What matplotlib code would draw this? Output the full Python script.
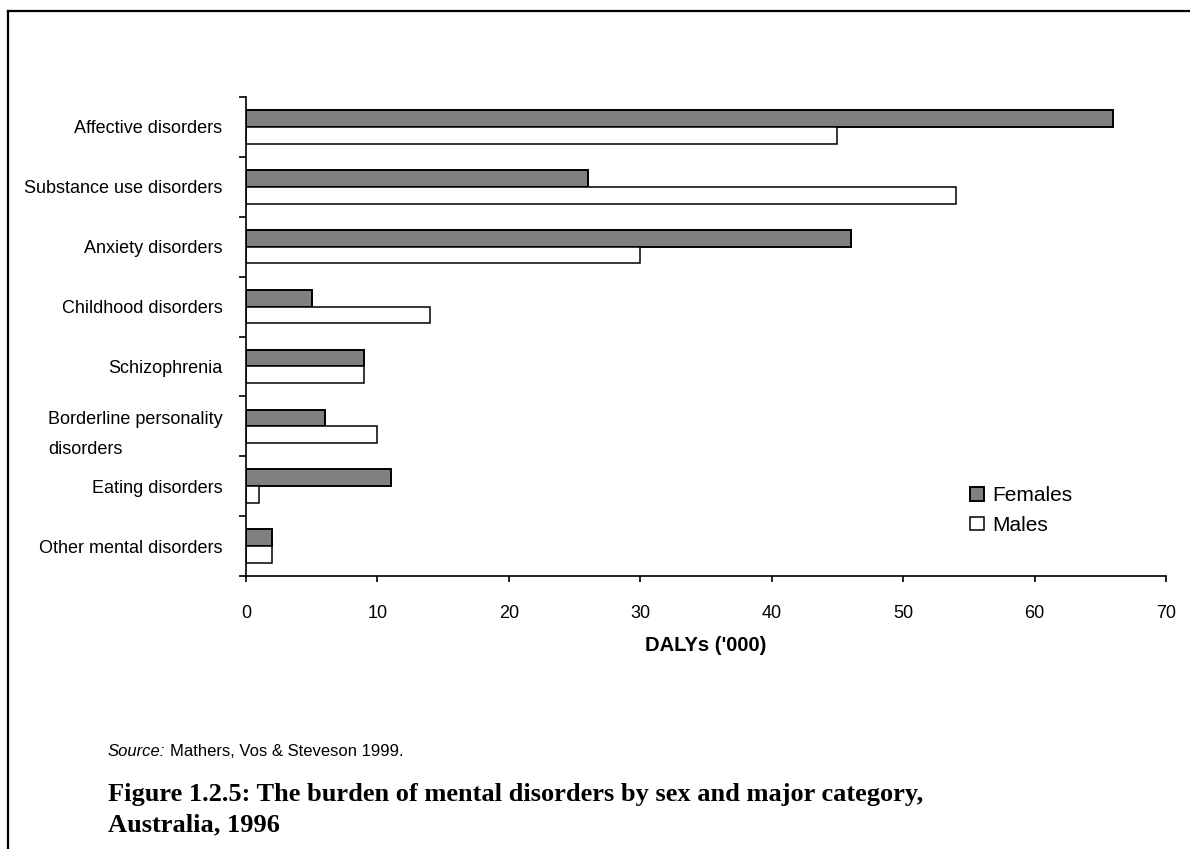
import matplotlib
matplotlib.use("Agg")
import matplotlib.pyplot as plt
from matplotlib.lines import Line2D
import numpy as np

plt.rcParams["font.family"] = ["Liberation Sans", "DejaVu Sans"]

# DALYs ('000) by category, Australia 1996
categories = [
    "Affective disorders",
    "Substance use disorders",
    "Anxiety disorders",
    "Childhood disorders",
    "Schizophrenia",
    "Borderline personality\ndisorders",
    "Eating disorders",
    "Other mental disorders",
]
females = [66, 26, 46, 5, 9, 6, 11, 2]
males = [45, 54, 30, 14, 9, 10, 1, 2]
xticks = [0, 10, 20, 30, 40, 50, 60, 70]

W, H = 1190, 849
fig = plt.figure(figsize=(W / 100, H / 100), dpi=100)

# page frame: top and left rules only
fig.add_artist(Line2D([8 / W, 8 / W], [0, 1 - 11 / H], color="black", lw=1.6,
                      transform=fig.transFigure))
fig.add_artist(Line2D([8 / W, 1], [1 - 11 / H, 1 - 11 / H], color="black", lw=1.6,
                      transform=fig.transFigure))

ax = fig.add_axes([246 / W, 1 - 576 / H, (1166 - 246) / W, (576 - 97) / H])

y = np.arange(len(categories))
h = 0.28
ax.barh(y - h / 2, females, height=h, color="#808080", edgecolor="black",
        linewidth=1.4, label="Females")
ax.barh(y + h / 2, males, height=h, color="white", edgecolor="black",
        linewidth=1.1, label="Males")

ax.set_xlim(0, 70)
ax.set_ylim(len(categories) - 0.5, -0.5)

ax.set_xticks(xticks)
ax.set_xticklabels([str(v) for v in xticks], fontsize=13)
ax.tick_params(axis="x", direction="out", length=4, width=1.2, pad=17)

# boundary ticks on the y axis, labels sit at the category centres
ax.set_yticks(np.arange(-0.5, len(categories), 1.0))
ax.set_yticklabels([])
ax.tick_params(axis="y", which="major", direction="out", length=5, width=1.2)
ax.set_yticks(y, minor=True)
ax.set_yticklabels(categories, minor=True, fontsize=13, linespacing=2.0,
                   multialignment="left")
ax.tick_params(axis="y", which="minor", length=0, pad=17)

for s in ["top", "right"]:
    ax.spines[s].set_visible(False)
for s in ["left", "bottom"]:
    ax.spines[s].set_linewidth(1.2)

ax.set_xlabel("DALYs ('000)", fontsize=14.5, fontweight="bold", labelpad=10)

ax.legend(loc="upper left", bbox_to_anchor=(960 / W, 1 - 476 / H),
          bbox_transform=fig.transFigure, frameon=False, fontsize=15,
          handlelength=0.65, handleheight=0.65, handletextpad=0.4,
          labelspacing=0.5, borderpad=0)

# source line: italic lead-in followed by the citation
src = fig.text(108 / W, 1 - 752 / H, "Source:", fontsize=12, style="italic",
               va="center")
ax.annotate("Mathers, Vos & Steveson 1999.", xy=(1, 0.5), xycoords=src,
            xytext=(3, 0), textcoords="offset points", fontsize=12,
            va="center", annotation_clip=False)

fig.text(108 / W, 1 - 795 / H,
         "Figure 1.2.5: The burden of mental disorders by sex and major category,",
         fontsize=19, fontweight="bold", family="Liberation Serif", va="center")
fig.text(108 / W, 1 - 825 / H, "Australia, 1996",
         fontsize=19, fontweight="bold", family="Liberation Serif", va="center")

fig.savefig("out.png", dpi=100)
